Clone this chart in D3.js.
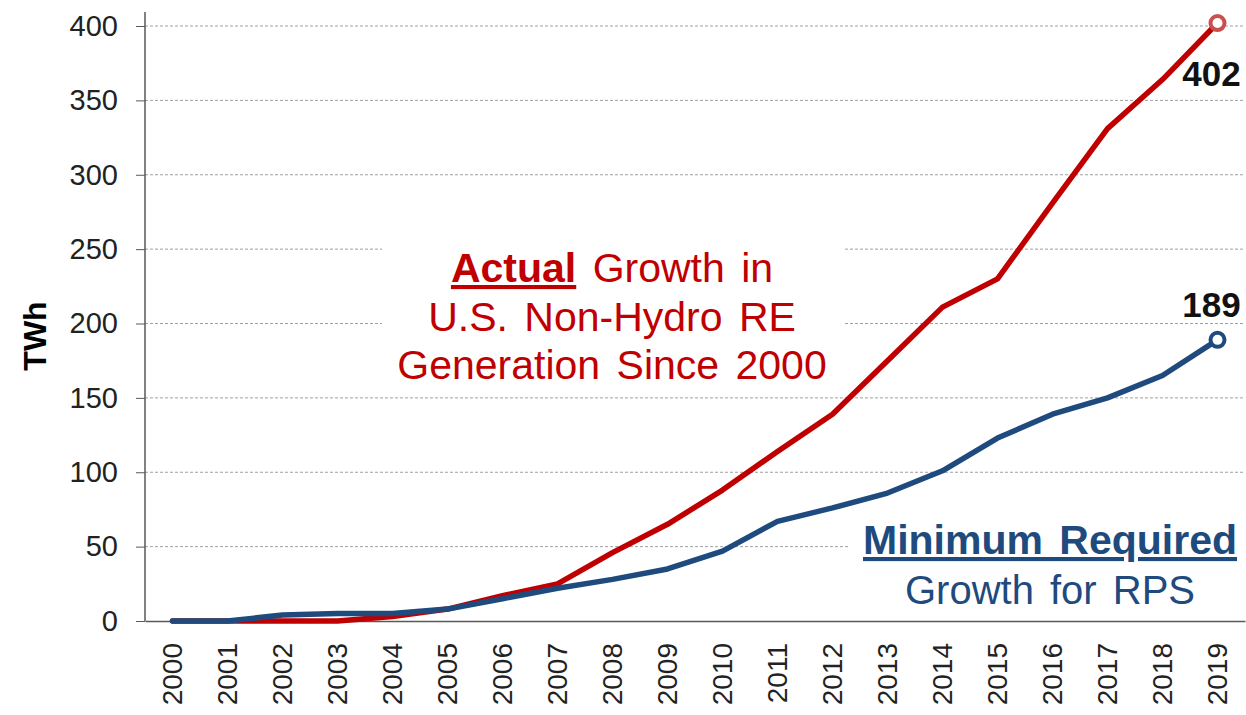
<!DOCTYPE html>
<html>
<head>
<meta charset="utf-8">
<script src="https://cdn.jsdelivr.net/npm/d3@7"></script>
<style>
  body { margin: 0; background: #fff; }
  svg text { font-family: "Liberation Sans", Arial, sans-serif; }
</style>
</head>
<body>
<div class="chart"></div>
<script>
const years = ['2000', '2001', '2002', '2003', '2004', '2005', '2006', '2007', '2008', '2009',
    '2010', '2011', '2012', '2013', '2014', '2015', '2016', '2017', '2018', '2019'];
const actual = [0, 0, 0, 0, 3, 8, 17, 25, 46, 65, 88, 114, 139, 175, 211, 230, 281, 331, 364, 402];
const minRequired = [0, 0, 4, 5, 5, 8, 15, 22, 28, 35, 47, 67, 76, 86, 101, 123, 139, 150, 165, 189];
const yTicks = [0, 50, 100, 150, 200, 250, 300, 350, 400];

const W = 1246, H = 715;
const margin = { top: 26, right: 1, bottom: 94, left: 145 },
    width = W - margin.left - margin.right,
    height = H - margin.top - margin.bottom;

const red = '#c00000', blue = '#1f4a7e';

const svg = d3.select('.chart')
    .append('svg')
    .attr('width', W)
    .attr('height', H)
    .append('g')
    .attr('transform', `translate(${margin.left},${margin.top})`);

const x = d3.scaleBand()
    .domain(years)
    .range([0, width]);
const cx = d => x(d) + x.bandwidth() / 2;

const y = d3.scaleLinear()
    .domain([0, 400])
    .range([height, 0]);

// gridlines
svg.append('g')
    .selectAll('line')
    .data(yTicks.filter(t => t > 0))
    .join('line')
    .attr('x1', 0)
    .attr('x2', width)
    .attr('y1', d => y(d))
    .attr('y2', d => y(d))
    .attr('stroke', '#a0a0a0')
    .attr('stroke-width', 1)
    .attr('stroke-dasharray', '3,2');

// white boxes behind annotations
svg.append('rect')
    .attr('x', 382 - margin.left).attr('y', 238 - margin.top)
    .attr('width', 461).attr('height', 154)
    .attr('fill', '#fff');
svg.append('rect')
    .attr('x', 850 - margin.left).attr('y', 522 - margin.top)
    .attr('width', 396).attr('height', 92)
    .attr('fill', '#fff');

// y axis
const yAxis = svg.append('g')
    .attr('class', 'y_axis')
    .call(d3.axisLeft(y).tickValues(yTicks).tickSize(9).tickPadding(18));
yAxis.select('.domain').remove();
yAxis.selectAll('line').attr('stroke', '#595959');
yAxis.selectAll('text')
    .attr('fill', '#222')
    .style('font-size', '29px');
svg.append('line')
    .attr('x1', 0).attr('x2', 0)
    .attr('y1', -14).attr('y2', height)
    .attr('stroke', '#595959').attr('stroke-width', 1.5);

// x axis
const xAxis = svg.append('g')
    .attr('class', 'x_axis')
    .attr('transform', `translate(0,${height})`)
    .call(d3.axisBottom(x).tickSize(0).tickPadding(0));
xAxis.select('.domain')
    .attr('stroke', '#595959').attr('stroke-width', 1.5);
xAxis.selectAll('text')
    .attr('fill', '#222')
    .style('font-size', '28px')
    .attr('transform', 'rotate(-90)')
    .attr('x', -22)
    .attr('y', 0)
    .attr('dy', '0.35em')
    .style('text-anchor', 'end');

// y label
svg.append('text')
    .attr('transform', 'rotate(-90)')
    .attr('x', -(336 - margin.top))
    .attr('y', 46 - margin.left)
    .attr('text-anchor', 'middle')
    .style('font-size', '32px')
    .style('font-weight', 'bold')
    .attr('fill', '#000')
    .text('TWh');

// lines
const line = d3.line()
    .x(d => cx(d.year))
    .y(d => y(d.value));

const series = [
    { name: 'actual', color: red, marker: '#c9504f', values: actual },
    { name: 'min', color: blue, marker: blue, values: minRequired }
];

series.forEach(s => {
    const pts = years.map((yr, i) => ({ year: yr, value: s.values[i] }));
    svg.append('path')
        .datum(pts)
        .attr('fill', 'none')
        .attr('stroke', s.color)
        .attr('stroke-width', 5.5)
        .attr('stroke-linejoin', 'round')
        .attr('stroke-linecap', 'round')
        .attr('d', line);
    const last = pts[pts.length - 1];
    svg.append('circle')
        .attr('cx', cx(last.year))
        .attr('cy', y(last.value))
        .attr('r', 7)
        .attr('fill', '#fff')
        .attr('stroke', s.marker)
        .attr('stroke-width', 4);
    svg.append('text')
        .attr('x', cx(last.year) - 6)
        .attr('y', s.name === 'actual' ? y(last.value) + 63 : y(last.value) - 23)
        .attr('text-anchor', 'middle')
        .style('font-size', '35px')
        .style('font-weight', 'bold')
        .attr('fill', '#111')
        .text(last.value);
});

// red annotation
const redNote = svg.append('text')
    .attr('fill', red)
    .attr('text-anchor', 'middle')
    .style('font-size', '41px')
    .style('word-spacing', '5px');
const l1 = redNote.append('tspan').attr('x', 612 - margin.left).attr('y', 282 - margin.top);
l1.append('tspan').style('font-weight', 'bold').style('text-decoration', 'underline').text('Actual');
l1.append('tspan').text(' Growth in');
redNote.append('tspan').attr('x', 612 - margin.left).attr('y', 331 - margin.top).text('U.S. Non-Hydro RE');
redNote.append('tspan').attr('x', 612 - margin.left).attr('y', 379 - margin.top).text('Generation Since 2000');

// blue annotation
const blueNote = svg.append('text')
    .attr('fill', blue)
    .attr('text-anchor', 'middle')
    .style('word-spacing', '5px');
blueNote.append('tspan')
    .attr('x', 1050 - margin.left).attr('y', 554 - margin.top)
    .style('font-size', '41px')
    .style('font-weight', 'bold')
    .style('text-decoration', 'underline')
    .text('Minimum Required');
blueNote.append('tspan')
    .attr('x', 1050 - margin.left).attr('y', 604 - margin.top)
    .style('font-size', '40px')
    .text('Growth for RPS');
</script>
</body>
</html>
